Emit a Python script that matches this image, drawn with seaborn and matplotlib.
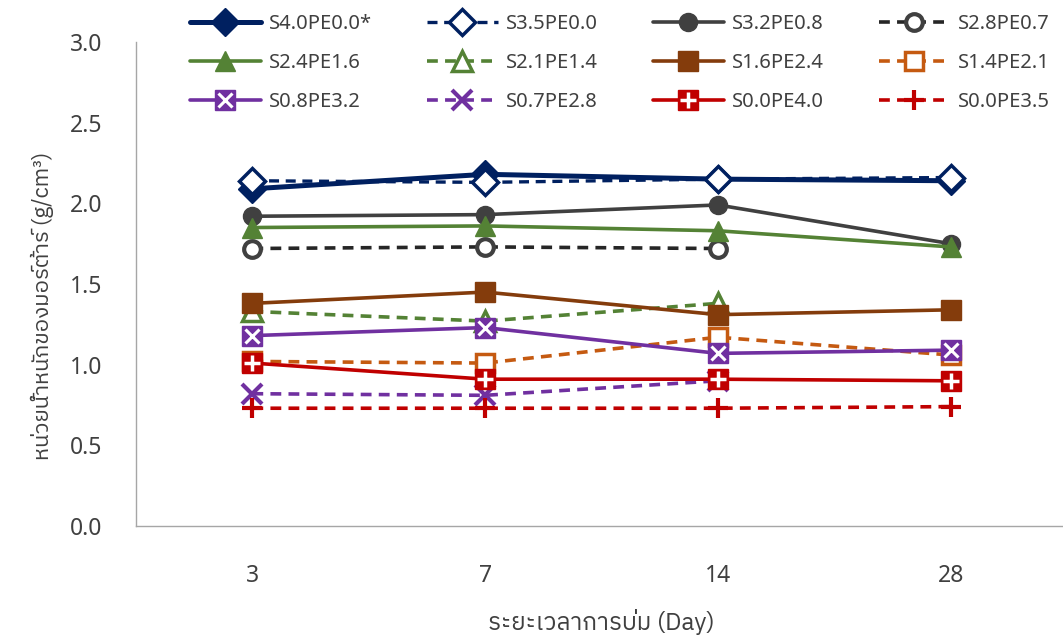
import numpy as np
import pandas as pd
import matplotlib
matplotlib.use("Agg")
import matplotlib.pyplot as plt
import seaborn as sns
from matplotlib.lines import Line2D
from matplotlib import font_manager
from matplotlib.ft2font import FT2Font

# ---------------- data ----------------
days = ["3", "7", "14", "28"]
names = ["S4.0PE0.0*", "S3.5PE0.0", "S3.2PE0.8", "S2.8PE0.7",
         "S2.4PE1.6", "S2.1PE1.4", "S1.6PE2.4", "S1.4PE2.1",
         "S0.8PE3.2", "S0.7PE2.8", "S0.0PE4.0", "S0.0PE3.5"]
s40_00 = [2.09, 2.18, 2.15, 2.14]
s35_00 = [2.14, 2.13, 2.15, 2.16]
s32_08 = [1.92, 1.93, 1.99, 1.75]
s28_07 = [1.72, 1.73, 1.72]
s24_16 = [1.85, 1.86, 1.83, 1.73]
s21_14 = [1.33, 1.27, 1.38]
s16_24 = [1.38, 1.45, 1.31, 1.34]
s14_21 = [1.02, 1.01, 1.17, 1.06]
s08_32 = [1.18, 1.23, 1.07, 1.09]
s07_28 = [0.82, 0.81, 0.90]
s00_40 = [1.01, 0.91, 0.91, 0.90]
s00_35 = [0.73, 0.73, 0.73, 0.74]
values = [s40_00, s35_00, s32_08, s28_07, s24_16, s21_14,
          s16_24, s14_21, s08_32, s07_28, s00_40, s00_35]
yticks = [0.0, 0.5, 1.0, 1.5, 2.0, 2.5, 3.0]
ylabel = "หน่วยน้ำหนักของมอร์ต้าร์ (g/cm³)"
xlabel = "ระยะเวลาการบ่ม (Day)"

# ---------------- fonts ----------------
def find_thai():
    cands = []
    for f in font_manager.fontManager.ttflist:
        try:
            cm = FT2Font(f.fname).get_charmap()
        except Exception:
            continue
        if 0x0E2B in cm and 0x0E49 in cm and 0x0E33 in cm:
            cands.append(f.name)
    if not cands:
        return None
    for c in cands:
        if "Sans" in c and "Thai" in c:
            return c
    for c in cands:
        if "Sans" in c:
            return c
    return cands[0]

thai = find_thai()
sns.set_theme(style="white")
base = "Noto Sans"
plt.rcParams["font.family"] = [base, "DejaVu Sans"]
label_family = ([thai] if thai else []) + [base, "DejaVu Sans"]
txt = "#404040"

# ---------------- styles ----------------
navy, dgray, blk = "#002060", "#404040", "#262626"
green, brown, orange = "#548235", "#843C0C", "#C55A11"
purple, red = "#7030A0", "#C00000"
dash = (0, (3, 2))
styles = [
    dict(color=navy, lw=3.6, ls="-", marker="D", ms=14, mfc=navy, mec=navy, mew=1),
    dict(color=navy, lw=2.4, ls=dash, marker="D", ms=13, mfc="white", mec=navy, mew=2.5),
    dict(color=dgray, lw=2.6, ls="-", marker="o", ms=13, mfc=dgray, mec=dgray, mew=1),
    dict(color=blk, lw=2.6, ls=dash, marker="o", ms=12, mfc="white", mec=dgray, mew=3),
    dict(color=green, lw=2.6, ls="-", marker="^", ms=15, mfc=green, mec=green, mew=1),
    dict(color=green, lw=2.6, ls=dash, marker="^", ms=14, mfc="white", mec=green, mew=2.5),
    dict(color=brown, lw=2.6, ls="-", marker="s", ms=14, mfc=brown, mec=brown, mew=1),
    dict(color=orange, lw=2.6, ls=dash, marker="s", ms=13, mfc="white", mec=orange, mew=2.5),
    dict(color=purple, lw=2.6, ls="-", marker="s", ms=14, mfc=purple, mec=purple, mew=1),
    dict(color=purple, lw=2.6, ls=dash, marker="x", ms=14, mfc=purple, mec=purple, mew=3),
    dict(color=red, lw=2.6, ls="-", marker="s", ms=14, mfc=red, mec=red, mew=1),
    dict(color=red, lw=2.6, ls=dash, marker="+", ms=15, mfc=red, mec=red, mew=3),
]
overlay = {8: dict(marker="x", ms=10, mec="white", mew=2.2),
           10: dict(marker="+", ms=11, mec="white", mew=2.5)}

# ---------------- figure ----------------
fig = plt.figure(figsize=(10.63, 6.39), dpi=100)
ax = fig.add_axes([136 / 1063, 1 - 526 / 639, 931 / 1063, 484 / 639])
pos = {d: i for i, d in enumerate(days)}

handles = []
for i, (nm, vals) in enumerate(zip(names, values)):
    st = styles[i]
    df = pd.DataFrame({"x": [pos[d] for d in days[:len(vals)]], "y": vals})
    sns.lineplot(data=df, x="x", y="y", ax=ax, errorbar=None, sort=False,
                 color=st["color"], linewidth=st["lw"], linestyle=st["ls"],
                 marker=st["marker"], markersize=st["ms"],
                 markerfacecolor=st["mfc"], markeredgecolor=st["mec"],
                 markeredgewidth=st["mew"], zorder=3 + i, legend=False)
    h = Line2D([], [], color=st["color"], lw=st["lw"], ls=st["ls"],
               marker=st["marker"], ms=st["ms"], mfc=st["mfc"], mec=st["mec"],
               mew=st["mew"])
    if i in overlay:
        ov = overlay[i]
        sns.lineplot(data=df, x="x", y="y", ax=ax, errorbar=None, sort=False,
                     linestyle="none", marker=ov["marker"], markersize=ov["ms"],
                     markeredgecolor=ov["mec"], markeredgewidth=ov["mew"],
                     color="white", zorder=3 + i + 0.5, legend=False)
        h2 = Line2D([], [], ls="none", marker=ov["marker"], ms=ov["ms"],
                    mec=ov["mec"], mew=ov["mew"])
        h = (h, h2)
    handles.append(h)

ax.set_xlim(-0.5, 3.5)
ax.set_ylim(0, 3.0)
ax.set_xticks(range(len(days)))
ax.set_xticklabels(days)
ax.set_yticks(yticks)
ax.set_yticklabels([f"{v:.1f}" for v in yticks])
ax.tick_params(axis="y", length=0, pad=24, labelsize=16.5, labelcolor=txt)
ax.tick_params(axis="x", length=0, pad=27, labelsize=16.5, labelcolor=txt)
for s in ["top", "right"]:
    ax.spines[s].set_visible(False)
for s in ["left", "bottom"]:
    ax.spines[s].set_color("#A6A6A6")
    ax.spines[s].set_linewidth(1.0)
ax.grid(False)

ax.set_xlabel(xlabel, fontsize=17.5, color=txt, family=label_family)
ax.set_ylabel(ylabel, fontsize=16, color=txt, family=label_family)
ax.xaxis.set_label_coords(0.5, -0.172)
ax.yaxis.set_label_coords(-0.088, 0.455)

# legend: row-major order in 4 columns
ncol, nrow = 4, 3
order = [r * ncol + c for c in range(ncol) for r in range(nrow)]
fig.legend([handles[k] for k in order], [names[k] for k in order],
           ncol=ncol, loc="upper left", bbox_to_anchor=(176 / 1063, 1.0),
           frameon=False, fontsize=14.5, handlelength=3.5, handletextpad=0.4,
           columnspacing=2.75, labelspacing=0.95, borderpad=0.2,
           labelcolor=txt)

fig.savefig("out.png", dpi=100)
